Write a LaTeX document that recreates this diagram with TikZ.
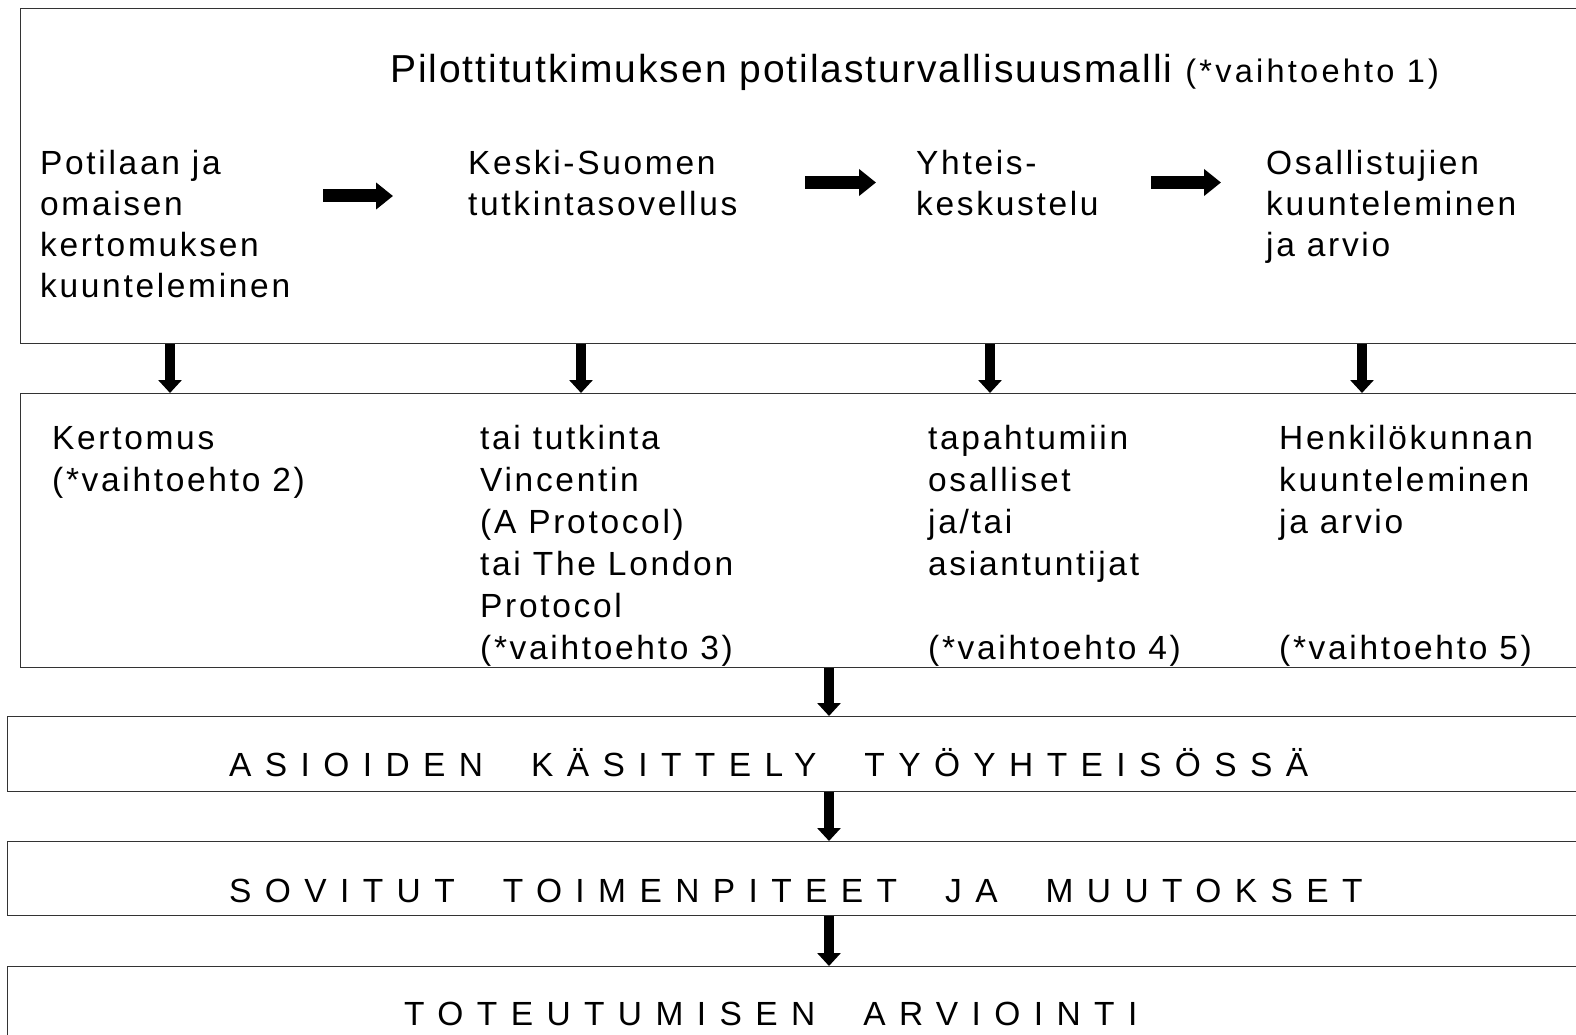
\documentclass[tikz,border=0pt]{standalone}
\usepackage{fontspec}
\setmainfont{Liberation Sans}
\newfontfamily\colfont[LetterSpace=8]{Liberation Sans}
\newfontfamily\headfont[LetterSpace=5]{Liberation Sans}
\newfontfamily\optfont[LetterSpace=10]{Liberation Sans}
\newfontfamily\capfont[LetterSpace=40]{Liberation Sans}
\newcommand{\wgap}{\hspace{48pt}}
\usetikzlibrary{arrows.meta}
\begin{document}
\begin{tikzpicture}[x=1pt,y=-1pt,
  frame/.style={draw=black!80, line width=1.3pt, rectangle, inner sep=0pt, anchor=north west},
  coltext/.style={anchor=base west, inner sep=0pt, align=left, font=\colfont\fontsize{33.5}{41}\selectfont},
  coltextb/.style={anchor=base west, inner sep=0pt, align=left, font=\colfont\fontsize{33.5}{42}\selectfont},
  capstext/.style={anchor=base west, inner sep=0pt, font=\capfont\fontsize{33.5}{40}\selectfont},
  harrow/.style={line width=13pt, -{Triangle[width=26pt,length=17pt]}},
  varrow/.style={line width=10pt, -{Triangle[width=23pt,length=13pt]}},
]
\useasboundingbox (0,0) rectangle (1576,1035);
\clip (0,0) rectangle (1576,1035);

% frames
\node[frame, minimum width=1620pt, minimum height=335pt] (box1) at (20,8) {};
\node[frame, minimum width=1620pt, minimum height=274pt] (box2) at (20,393) {};
\node[frame, minimum width=1620pt, minimum height=75pt] (box3) at (7,716) {};
\node[frame, minimum width=1620pt, minimum height=74pt] (box4) at (7,841) {};
\node[frame, minimum width=1620pt, minimum height=120pt] (box5) at (7,966) {};

% title
\node[anchor=base west, inner sep=0pt] (title) at (390,83)
  {{\headfont\fontsize{39}{45}\selectfont Pilottitutkimuksen potilasturvallisuusmalli}{\optfont\fontsize{32.5}{36}\selectfont\hspace{13pt}(*vaihtoehto 1)}};

% top row texts (anchor = baseline of last line)
\node[coltext] (t1) at (40,297) {Potilaan ja\\omaisen\\kertomuksen\\kuunteleminen};
\node[coltext] (t2) at (468,215) {Keski-Suomen\\tutkintasovellus};
\node[coltext] (t3) at (916,215) {Yhteis-\\keskustelu};
\node[coltext] (t4) at (1266,256) {Osallistujien\\kuunteleminen\\ja arvio};

% second row texts
\node[coltextb] (s1) at (52,491) {Kertomus\\(*vaihtoehto 2)};
\node[coltextb] (s2) at (480,659) {tai tutkinta\\Vincentin\\(A Protocol)\\tai The London\\Protocol\\(*vaihtoehto 3)};
\node[coltextb] (s3) at (928,575) {tapahtumiin\\osalliset\\ja/tai\\asiantuntijat};
\node[coltextb] (s3b) at (928,659) {(*vaihtoehto 4)};
\node[coltextb] (s4) at (1279,533) {Henkilökunnan\\kuunteleminen\\ja arvio};
\node[coltextb] (s4b) at (1279,659) {(*vaihtoehto 5)};

% caps rows
\node[capstext] (c1) at (229,776) {ASIOIDEN\wgap KÄSITTELY\wgap TYÖYHTEISÖSSÄ};
\node[capstext] (c2) at (229,902) {SOVITUT\wgap TOIMENPITEET\wgap JA\wgap MUUTOKSET};
\node[capstext] (c3) at (404,1025) {TOTEUTUMISEN\wgap ARVIOINTI};

% horizontal arrows
\coordinate (h1a) at (323,196); \coordinate (h1b) at (393,196);
\coordinate (h2a) at (805,182.5); \coordinate (h2b) at (876,182.5);
\coordinate (h3a) at (1151,182.5); \coordinate (h3b) at (1221,182.5);
\draw[harrow] (h1a) -- (h1b);
\draw[harrow] (h2a) -- (h2b);
\draw[harrow] (h3a) -- (h3b);

% vertical arrows
\coordinate (v1) at (170,0);
\coordinate (v2) at (581,0);
\coordinate (v3) at (990,0);
\coordinate (v4) at (1362,0);
\coordinate (v5) at (829,0);
\foreach \v in {v1,v2,v3,v4}
  \draw[varrow] (\v |- box1.south) -- (\v |- box2.north);
\draw[varrow] (v5 |- box2.south) -- (v5 |- box3.north);
\draw[varrow] (v5 |- box3.south) -- (v5 |- box4.north);
\draw[varrow] (v5 |- box4.south) -- (v5 |- box5.north);
\end{tikzpicture}
\end{document}
